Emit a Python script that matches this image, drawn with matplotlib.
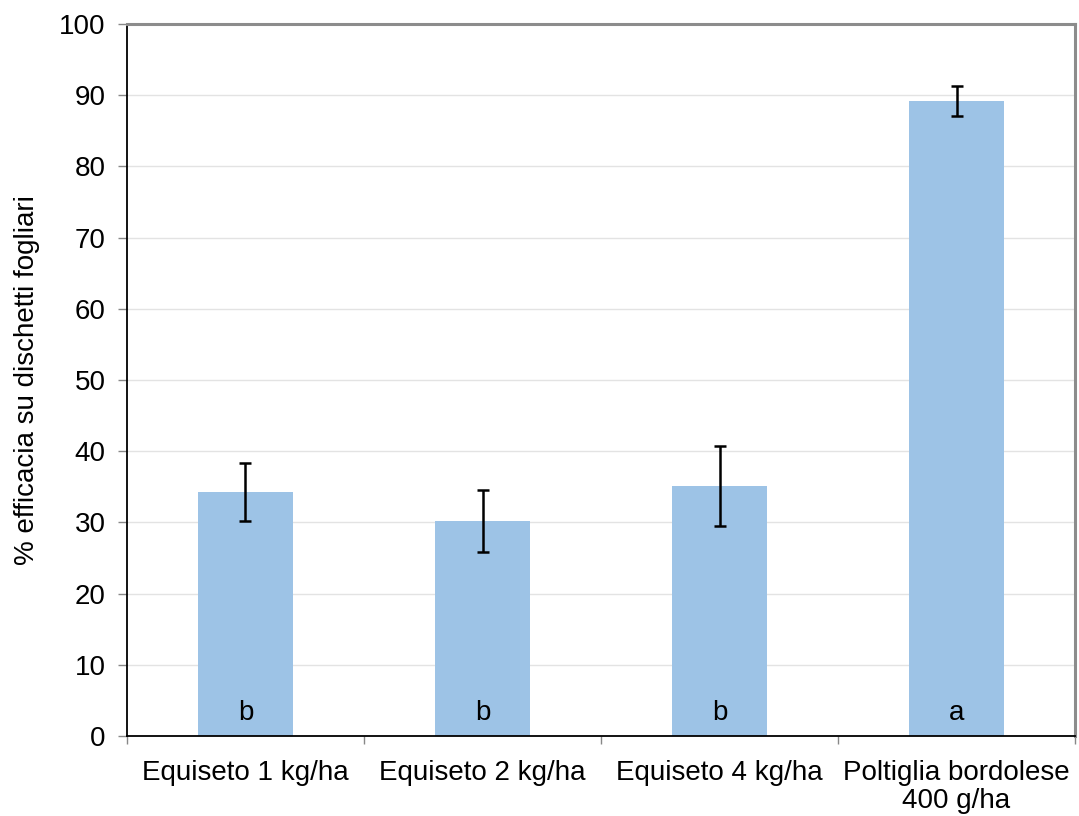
import numpy as np
import matplotlib
matplotlib.use("Agg")
import matplotlib.pyplot as plt

plt.rcParams['font.family'] = ['Liberation Sans', 'DejaVu Sans']

treatments = ['Equiseto 1 kg/ha', 'Equiseto 2 kg/ha', 'Equiseto 4 kg/ha',
              'Poltiglia bordolese\n400 g/ha']
efficacy = [34.3, 30.2, 35.1, 89.2]
errors = [4.1, 4.3, 5.6, 2.15]
letters = ['b', 'b', 'b', 'a']

fig = plt.figure(figsize=(10.79, 8.16), dpi=100)
ax = fig.add_axes([0.1177, 0.098, 0.8786, 0.8726])

x = np.arange(len(treatments))
ax.bar(x, efficacy, width=0.4, color='#9dc3e6', zorder=2)
ax.errorbar(x, efficacy, yerr=errors, fmt='none', ecolor='black',
            elinewidth=1.8, capsize=4.5, capthick=1.8, zorder=3)

for xi, lab in zip(x, letters):
    ax.text(xi, 3.2, lab, ha='center', va='center', fontsize=20, zorder=4)

ax.set_xlim(-0.5, 3.5)
ax.set_ylim(0, 100)
ax.set_yticks(np.arange(0, 101, 10))
ax.yaxis.grid(True, color='#e3e3e3', linewidth=1, zorder=0)
ax.set_axisbelow(True)

ax.set_xticks(x)
ax.set_xticklabels(treatments, fontsize=20, linespacing=1.12)
ax.set_xticks(np.arange(-0.5, 3.6, 1), minor=True)
ax.tick_params(axis='x', which='major', length=0, pad=17)
ax.tick_params(axis='x', which='minor', length=6, color='#888888', width=1)
ax.tick_params(axis='y', length=6.5, color='#888888', width=1, labelsize=20, pad=9)

ax.set_ylabel('% efficacia su dischetti fogliari', fontsize=20, labelpad=14)

for side in ['left', 'bottom']:
    ax.spines[side].set_color('black')
    ax.spines[side].set_linewidth(1.3)
for side in ['top', 'right']:
    ax.spines[side].set_color('#8c8c8c')
    ax.spines[side].set_linewidth(2.2)

fig.savefig('out.png', dpi=100)
